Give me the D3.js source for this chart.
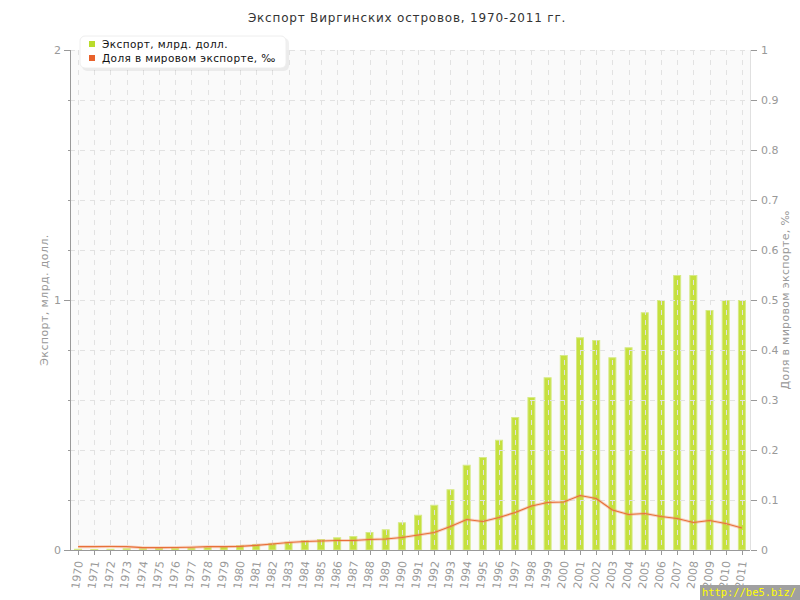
<!DOCTYPE html>
<html><head><meta charset="utf-8">
<script src="https://cdn.jsdelivr.net/npm/d3@7"></script>
<style>
html,body{margin:0;padding:0;background:#fff;}
svg{display:block;font-family:"DejaVu Sans",Verdana,sans-serif;}
</style></head>
<body>
<svg id="chart" width="800" height="600"></svg>
<script>
const titleText = "Экспорт Виргинских островов, 1970-2011 гг.";
const seriesNames = ["Экспорт, млрд. долл.", "Доля в мировом экспорте, ‰"];
const leftAxisTitle = "Экспорт, млрд. долл.";
const rightAxisTitle = "Доля в мировом экспорте, ‰";
const years = ["1970","1971","1972","1973","1974","1975","1976","1977","1978","1979",
  "1980","1981","1982","1983","1984","1985","1986","1987","1988","1989",
  "1990","1991","1992","1993","1994","1995","1996","1997","1998","1999",
  "2000","2001","2002","2003","2004","2005","2006","2007","2008","2009","2010","2011"];
const exportValues = [0.005,0.004,0.005,0.007,0.007,0.008,0.009,0.01,0.012,0.015,
  0.019,0.024,0.028,0.033,0.039,0.044,0.051,0.056,0.072,0.083,
  0.111,0.141,0.181,0.243,0.341,0.372,0.441,0.532,0.612,0.691,
  0.78,0.851,0.84,0.771,0.811,0.951,1.0,1.1,1.1,0.96,1.0,1.0];
const shareValues = [0.0067,0.0067,0.007,0.0067,0.0047,0.0047,0.005,0.0055,0.0067,0.0067,
  0.0073,0.0093,0.012,0.015,0.017,0.018,0.019,0.019,0.021,0.022,
  0.025,0.03,0.035,0.047,0.061,0.057,0.065,0.075,0.088,0.095,
  0.096,0.109,0.103,0.08,0.071,0.073,0.067,0.063,0.055,0.059,0.053,0.044];
const leftTickValues = [0,0.2,0.4,0.6,0.8,1,1.2,1.4,1.6,1.8,2];
const leftTickLabels = {0:"0",1:"1",2:"2"};
const rightTickValues = [0,0.1,0.2,0.3,0.4,0.5,0.6,0.7,0.8,0.9,1];
const rightTickLabels = ["0","0.1","0.2","0.3","0.4","0.5","0.6","0.7","0.8","0.9","1"];
const watermark = "http://be5.biz/";

const svg = d3.select("#chart");
const L = 70, R = 750, T = 50, B = 550;
const x = d3.scaleBand().domain(years).range([L, R]).padding(0);
const yL = d3.scaleLinear().domain([0, 2]).range([B, T]);
const yR = d3.scaleLinear().domain([0, 1]).range([B, T]);
const cx = d => x(d) + x.bandwidth() / 2;

// plot background
svg.append("rect").attr("x", L).attr("y", T).attr("width", R - L).attr("height", B - T).attr("fill", "#fafafa");

// bars
const barW = 8;
svg.append("g").selectAll("rect").data(years).join("rect")
  .attr("x", (d) => cx(d) - barW / 2 + 0.5)
  .attr("y", (d, i) => yL(exportValues[i]) + 0.5)
  .attr("width", barW - 1)
  .attr("height", (d, i) => Math.max(0, B - yL(exportValues[i]) - 0.5))
  .attr("fill", "#c5e03e")
  .attr("stroke", "#d6ea86")
  .attr("stroke-width", 1);

// grid (on top of bars)
const grid = svg.append("g").attr("stroke", "#e2e2e2").attr("stroke-dasharray", "5,5").attr("stroke-width", 1);
grid.selectAll("line.h").data(leftTickValues.filter(v => v > 0)).join("line")
  .attr("x1", L).attr("x2", R)
  .attr("y1", d => Math.round(yL(d)) + 0.5).attr("y2", d => Math.round(yL(d)) + 0.5);
grid.selectAll("line.v").data(years).join("line")
  .attr("x1", d => Math.round(cx(d)) + 0.5).attr("x2", d => Math.round(cx(d)) + 0.5)
  .attr("y1", T).attr("y2", B);

// line
const line = d3.line().x((d, i) => cx(years[i])).y(d => yR(d));
svg.append("path").datum(shareValues).attr("d", line)
  .attr("fill", "none").attr("stroke", "rgba(240,140,90,0.35)").attr("stroke-width", 3);
svg.append("path").datum(shareValues).attr("d", line)
  .attr("fill", "none").attr("stroke", "#e8703a").attr("stroke-width", 1.2);

// left axis
const gl = svg.append("g");
gl.append("line").attr("x1", L + 0.5).attr("x2", L + 0.5).attr("y1", T).attr("y2", B).attr("stroke", "#999");
gl.selectAll("line.t").data(leftTickValues).join("line")
  .attr("x1", d => leftTickLabels[d] !== undefined ? L - 6 : L - 2).attr("x2", L)
  .attr("y1", d => Math.round(yL(d)) + 0.5).attr("y2", d => Math.round(yL(d)) + 0.5)
  .attr("stroke", "#999");
gl.selectAll("text").data(leftTickValues.filter(v => leftTickLabels[v] !== undefined)).join("text")
  .attr("x", L - 9).attr("y", d => yL(d)).attr("dy", "0.35em")
  .attr("text-anchor", "end").attr("fill", "#999").attr("font-size", "11px")
  .text(d => leftTickLabels[d]);
svg.append("text").attr("transform", `translate(48,${(T + B) / 2}) rotate(-90)`)
  .attr("text-anchor", "middle").attr("fill", "#999").attr("font-size", "11px")
  .attr("letter-spacing", "0.4px").text(leftAxisTitle);

// right axis
const gr = svg.append("g");
gr.append("line").attr("x1", R + 0.5).attr("x2", R + 0.5).attr("y1", T).attr("y2", B).attr("stroke", "#e0e0e0");
gr.selectAll("line.t").data(rightTickValues).join("line")
  .attr("x1", R + 1).attr("x2", R + 7)
  .attr("y1", d => Math.round(yR(d)) + 0.5).attr("y2", d => Math.round(yR(d)) + 0.5)
  .attr("stroke", "#999");
gr.selectAll("text").data(rightTickValues).join("text")
  .attr("x", R + 11).attr("y", d => yR(d)).attr("dy", "0.35em")
  .attr("fill", "#999").attr("font-size", "11px")
  .text((d, i) => rightTickLabels[i]);
svg.append("text").attr("transform", `translate(789,${(T + B) / 2}) rotate(-90)`)
  .attr("text-anchor", "middle").attr("fill", "#999").attr("font-size", "11px")
  .attr("letter-spacing", "0.3px").text(rightAxisTitle);

// bottom axis
const gb = svg.append("g");
gb.append("line").attr("x1", L).attr("x2", R).attr("y1", B + 0.5).attr("y2", B + 0.5).attr("stroke", "#999");
gb.selectAll("line.t").data(years).join("line")
  .attr("x1", d => Math.round(cx(d)) + 0.5).attr("x2", d => Math.round(cx(d)) + 0.5)
  .attr("y1", B).attr("y2", B + 5).attr("stroke", "#999");
gb.selectAll("text").data(years).join("text")
  .attr("transform", d => `translate(${cx(d) + 1},${B + 11}) rotate(-82)`)
  .attr("text-anchor", "end").attr("dy", "0.35em")
  .attr("fill", "#999").attr("font-size", "11px")
  .text(d => d);

// title
svg.append("text").attr("x", 407).attr("y", 22).attr("text-anchor", "middle")
  .attr("fill", "#333").attr("font-size", "12px").attr("letter-spacing", "0.8px").text(titleText);

// legend
const lg = svg.append("g");
lg.append("rect").attr("x", 82).attr("y", 38).attr("width", 207).attr("height", 33).attr("rx", 5)
  .attr("fill", "rgba(0,0,0,0.06)");
lg.append("rect").attr("x", 80).attr("y", 36).attr("width", 206).attr("height", 32).attr("rx", 5)
  .attr("fill", "#fff").attr("stroke", "#eee");
const legColors = ["#b9dc2c", "#e8622c"];
seriesNames.forEach((n, i) => {
  lg.append("rect").attr("x", 89).attr("y", 41 + i * 14).attr("width", 6).attr("height", 6).attr("fill", legColors[i]);
  lg.append("text").attr("x", 102).attr("y", 44 + i * 14).attr("dy", "0.35em")
    .attr("fill", "#111").attr("font-size", "10.5px").attr("letter-spacing", "0.4px").text(n);
});

// watermark
svg.append("rect").attr("x", 700).attr("y", 585).attr("width", 100).attr("height", 15).attr("fill", "#a0a0a0");
svg.append("text").attr("x", 702).attr("y", 596).attr("fill", "#ffff00")
  .attr("font-family", "DejaVu Sans Mono, monospace").attr("font-size", "11px")
  .attr("textLength", 94).attr("lengthAdjust", "spacingAndGlyphs").text(watermark);
</script>
</body></html>
